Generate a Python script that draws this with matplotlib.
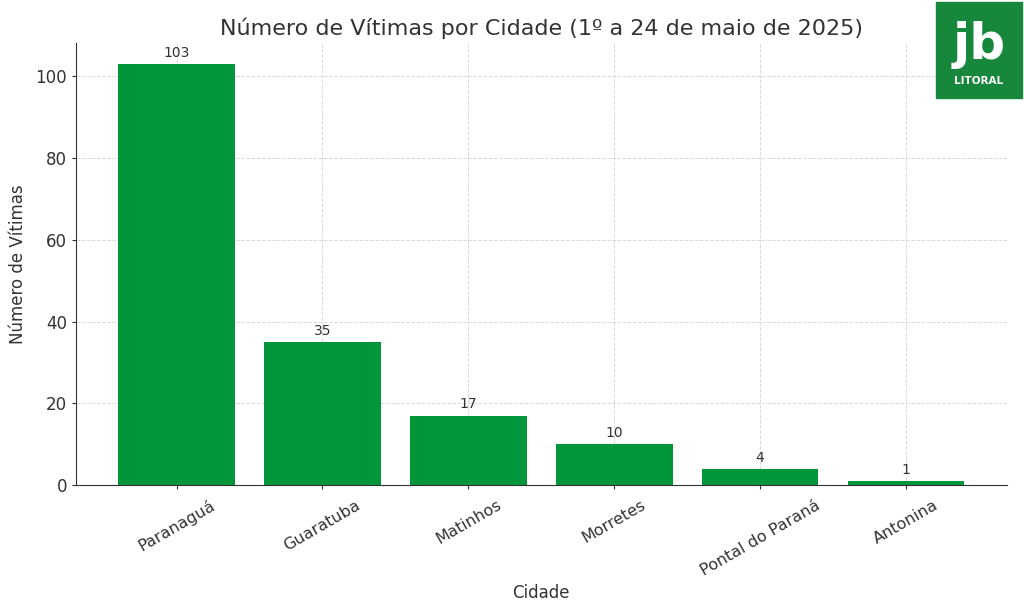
import matplotlib.pyplot as plt
from matplotlib.patches import Rectangle

cidades = ['Paranaguá', 'Guaratuba', 'Matinhos', 'Morretes', 'Pontal do Paraná', 'Antonina']
vitimas = [103, 35, 17, 10, 4, 1]

verde = '#009639'
cinza = '#333333'

fig = plt.figure(figsize=(10.24, 6.14), dpi=100)
ax = fig.add_axes([0.0742, 0.21, 0.9088, 0.72])

barras = ax.bar(cidades, vitimas, color=verde, width=0.8, zorder=2)
for b, v in zip(barras, vitimas):
    ax.text(b.get_x() + b.get_width() / 2, v + 1, str(v), ha='center', va='bottom',
            fontsize=10, color=cinza)

ax.set_ylim(0, 108.15)
ax.grid(True, linestyle='--', color='#d9d9d9', linewidth=0.7, zorder=0)
ax.spines['top'].set_visible(False)
ax.spines['right'].set_visible(False)
ax.spines['left'].set_color(cinza)
ax.spines['bottom'].set_color(cinza)
ax.tick_params(axis='y', labelsize=12, colors=cinza, length=3)
ax.tick_params(axis='x', labelsize=11.5, colors=cinza, length=3, pad=6)
plt.setp(ax.get_xticklabels(), rotation=30)

ax.set_title('Número de Vítimas por Cidade (1º a 24 de maio de 2025)', fontsize=16, color=cinza, pad=6)
ax.set_xlabel('Cidade', fontsize=12, color=cinza)
ax.set_ylabel('Número de Vítimas', fontsize=12, color=cinza, labelpad=6)

# logo
fig.patches.append(Rectangle((936 / 1024, 1 - 98 / 614), 86 / 1024, 96 / 614,
                             transform=fig.transFigure, color='#16873b', zorder=5))
fig.text(979 / 1024, 1 - 45 / 614, 'jb', ha='center', va='center', fontsize=36,
         fontweight='heavy', family='DejaVu Sans', color='white', zorder=6)
fig.text(979 / 1024, 1 - 81 / 614, 'LITORAL', ha='center', va='center', fontsize=7.5,
         fontweight='bold', color='white', zorder=6)

fig.savefig('out.png', dpi=100)
